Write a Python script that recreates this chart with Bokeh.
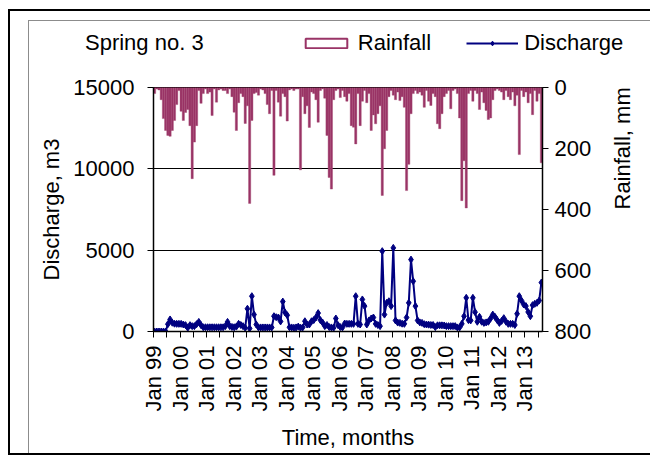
import numpy as np
from bokeh.plotting import figure
from bokeh.layouts import column
from bokeh.models import Range1d, LinearAxis, FixedTicker, Legend, LegendItem
from bokeh.embed import file_html
from bokeh.resources import INLINE

# ---- data (monthly, Jan 1999 .. Aug 2013) ----
tick_labels = ["Jan 99", "Jan 00", "Jan 01", "Jan 02", "Jan 03", "Jan 04", "Jan 05",
               "Jan 06", "Jan 07", "Jan 08", "Jan 09", "Jan 10", "Jan 11", "Jan 12", "Jan 13"]

discharge = [
    0, 0, 0, 0, 0, 0, 450, 740, 540, 480, 470, 470,                      # 1999
    470, 430, 390, 230, 390, 330, 330, 450, 590, 390, 260, 260,          # 2000
    260, 260, 260, 260, 260, 260, 260, 260, 330, 590, 330, 280,          # 2001
    260, 300, 470, 400, 330, 230, 1400, 190, 2170, 1040, 430, 250,       # 2002
    250, 250, 250, 250, 250, 250, 940, 880, 860, 620, 1840, 1170,        # 2003
    1000, 260, 250, 230, 250, 300, 230, 250, 630, 430, 430, 630,         # 2004
    700, 860, 1130, 700, 550, 330, 400, 270, 250, 230, 800, 390,         # 2005
    270, 250, 490, 470, 470, 470, 470, 2170, 470, 430, 1970, 1560,       # 2006
    430, 680, 800, 860, 470, 400, 330, 4940, 1040, 1760, 1860, 1560,     # 2007
    5140, 680, 550, 530, 480, 470, 860, 1760, 4420, 3090, 1560, 680,     # 2008
    560, 530, 450, 430, 420, 400, 400, 270, 380, 380, 380, 370,          # 2009
    330, 330, 330, 330, 330, 250, 250, 470, 940, 2070, 700, 680,         # 2010
    2070, 1190, 600, 900, 600, 530, 560, 600, 800, 1040, 900, 700,       # 2011
    530, 650, 820, 600, 470, 470, 470, 400, 1090, 2170, 1900, 1660,      # 2012
    1560, 1200, 940, 1620, 1700, 1760, 1900, 3010,                       # 2013
]

rainfall = [
    20, 5, 8, 40, 102, 141, 157, 160, 141, 108, 56, 10,                  # 1999
    78, 108, 82, 72, 125, 299, 179, 125, 10, 52, 20, 5,                  # 2000
    20, 15, 92, 5, 48, 8, 5, 10, 10, 20, 5, 30,                          # 2001
    81, 141, 50, 20, 30, 118, 60, 380, 108, 20, 16, 25,                  # 2002
    5, 8, 20, 56, 86, 10, 288, 10, 48, 94, 20, 30,                       # 2003
    110, 8, 5, 10, 5, 5, 270, 30, 86, 60, 131, 15,                       # 2004
    20, 40, 114, 10, 5, 35, 157, 295, 333, 40, 10, 5,                    # 2005
    33, 10, 30, 45, 20, 125, 130, 185, 20, 125, 45, 10,                  # 2006
    50, 20, 141, 90, 119, 86, 60, 354, 201, 141, 30, 10,                 # 2007
    25, 40, 15, 43, 30, 65, 338, 252, 86, 20, 10, 20,                    # 2008
    15, 25, 65, 10, 45, 59, 20, 30, 119, 135, 86, 30,                    # 2009
    20, 10, 70, 10, 5, 20, 100, 371, 240, 395, 20, 10,                   # 2010
    45, 10, 20, 72, 15, 50, 75, 105, 100, 40, 10, 5,                     # 2011
    10, 15, 40, 10, 30, 40, 15, 60, 25, 220, 10, 30,                     # 2012
    15, 50, 20, 89, 10, 45, 20, 247,                                     # 2013
]

n = len(discharge)
xc = [i + 0.5 for i in range(n)]

FONT = "Liberation Sans"
FS = "22px"
PLUM = "#993366"
NAVY = "#000080"
GREY = "#8c8c8c"

W = 650
TOP_H = 60
MAIN_H = 400

# ---------------- header strip: title + legend ----------------
hdr = figure(width=W, height=TOP_H, x_range=Range1d(0, 1), y_range=Range1d(0, 1),
             x_axis_type=None, y_axis_type=None, output_backend="svg", toolbar_location=None,
             min_border_left=0, min_border_right=0, min_border_top=0, min_border_bottom=0)
hdr.grid.visible = False
hdr.outline_line_color = None
hdr.background_fill_alpha = 0
hdr.border_fill_alpha = 0
hdr.styles = {"box-shadow": f"inset 8px 9px 0 0 #fff, inset 10px 11px 0 0 #000, "
                            f"inset 28px 20px 0 0 #fff, inset 29px 21px 0 0 {GREY}"}

# legend-only renderers (outside the visible range)
leg_blank = hdr.scatter([-5], [-5], marker="square", size=1, fill_alpha=0, line_alpha=0)
leg_rect = hdr.quad(left=[-5], right=[-4], top=[-4], bottom=[-5], fill_color="white",
                    line_color=PLUM, line_width=2)
leg_line = hdr.line([-5, -4], [-5, -5], line_color=NAVY, line_width=2)
leg_pt = hdr.scatter([-5], [-5], marker="diamond", size=6, color=NAVY)

NB = "\u00a0"
items = [LegendItem(label="Spring no. 3" + NB * 10, renderers=[leg_blank]),
         LegendItem(label="Rainfall", renderers=[leg_rect]),
         LegendItem(label="Discharge", renderers=[leg_line, leg_pt])]
leg = Legend(items=items, orientation="horizontal", location=(27, 4),
             glyph_width=52, glyph_height=12, label_standoff=6, spacing=35,
             padding=0, margin=0, border_line_color=None, background_fill_alpha=0,
             label_text_font=FONT, label_text_font_size=FS, label_text_color="black")
hdr.add_layout(leg)

# ---------------- main chart ----------------
p = figure(width=W, height=MAIN_H, x_range=Range1d(0, n), y_range=Range1d(0, 15000),
           output_backend="svg", toolbar_location=None,
           min_border_left=153, min_border_right=102, min_border_top=27, min_border_bottom=129)
p.extra_y_ranges = {"rain": Range1d(800, 0)}
p.outline_line_color = "black"
p.background_fill_color = "white"
p.border_fill_alpha = 0
p.styles = {"box-shadow": f"inset 0 -5px 0 0 #fff, inset 8px 0 0 0 #fff, "
                          f"inset 0 -7px 0 0 #000, inset 10px 0 0 0 #000, "
                          f"inset 28px 0 0 0 #fff, inset 29px 0 0 0 {GREY}"}

# do not align the header's frame with the chart's frame
for fig in (hdr, p):
    if "frame_align" in fig.properties():
        fig.frame_align = False

p.vbar(x=xc, top=rainfall, bottom=0, width=1.0, y_range_name="rain",
       fill_color=PLUM, line_color="#A3466F", line_width=0.4)
p.line(xc, discharge, line_color=NAVY, line_width=2)
p.scatter(xc, discharge, marker="diamond", size=7, color=NAVY)

p.xgrid.visible = False
p.ygrid.grid_line_color = "black"
p.ygrid.grid_line_width = 1

xa = p.xaxis[0]
major = [12 * k for k in range(len(tick_labels))]
minor = [12 * k + 6 for k in range(len(tick_labels))]
xa.ticker = FixedTicker(ticks=major, minor_ticks=minor)
xa.major_label_overrides = {m: lab for m, lab in zip(major, tick_labels)}
xa.major_label_orientation = np.pi / 2
xa.axis_label = "Time, months"

ya = p.yaxis[0]
ya.ticker = FixedTicker(ticks=[0, 5000, 10000, 15000])
ya.axis_label = "Discharge, m3"

ra = LinearAxis(y_range_name="rain", ticker=FixedTicker(ticks=[0, 200, 400, 600, 800]),
                axis_label="Rainfall, mm")
p.add_layout(ra, "right")

for ax in [xa, ya, ra]:
    ax.axis_line_color = "black"
    ax.axis_line_width = 1.5
    ax.major_tick_line_color = "black"
    ax.minor_tick_line_color = "black"
    ax.major_tick_out = 6
    ax.major_tick_in = 0
    ax.minor_tick_out = 6
    ax.minor_tick_in = 0
    ax.major_label_text_font = FONT
    ax.major_label_text_font_size = FS
    ax.major_label_text_color = "black"
    ax.axis_label_text_font = FONT
    ax.axis_label_text_font_size = FS
    ax.axis_label_text_font_style = "normal"
    ax.axis_label_text_color = "black"
ya.minor_tick_line_color = None
ra.minor_tick_line_color = None
xa.major_label_standoff = 8
xa.axis_label_standoff = 10
ya.major_label_standoff = 13
ya.axis_label_standoff = 6
ra.major_label_standoff = 6
ra.axis_label_standoff = 28
if "axis_label_orientation" in ra.properties():
    ra.axis_label_orientation = np.pi / 2

layout = column(hdr, p, spacing=0)
open("out.html", "w").write(file_html(layout, INLINE))
